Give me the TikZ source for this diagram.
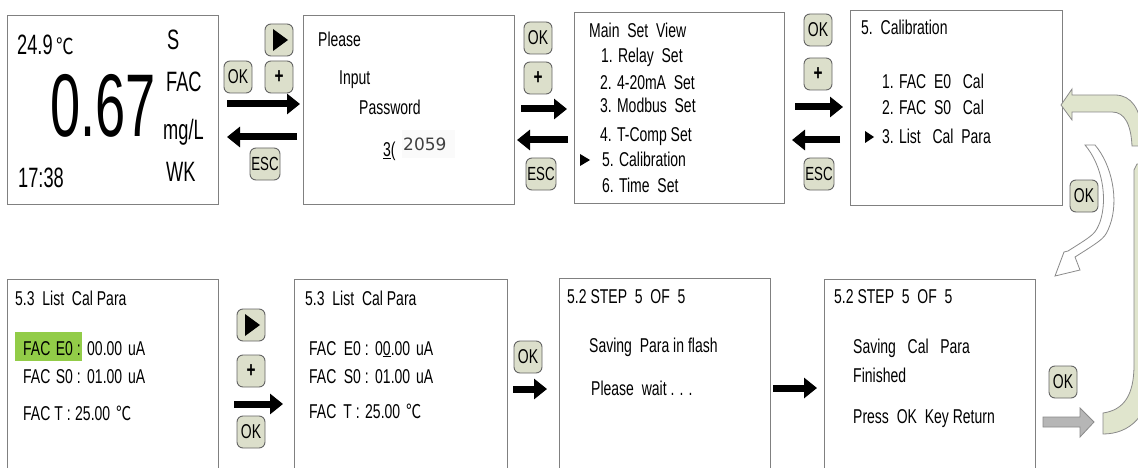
\documentclass[tikz,border=0pt]{standalone}
\usepackage{graphicx}
\usepackage{fontspec}
\setmainfont{Liberation Sans}[FakeStretch=0.70]
\newfontfamily\cjk{Noto Sans CJK SC}
\newfontfamily\dvfont{DejaVu Sans}
\usetikzlibrary{arrows.meta}
\definecolor{btnfill}{RGB}{220,223,203}
\definecolor{btnline}{RGB}{100,100,100}
\definecolor{framec}{RGB}{128,128,128}
\definecolor{bandfill}{RGB}{224,229,205}
\definecolor{bandline}{RGB}{138,138,138}
\definecolor{hlgreen}{RGB}{146,204,72}
\definecolor{grayarrow}{RGB}{182,182,182}
\newcommand{\narrowtxt}[1]{\scalebox{0.93}[1]{#1}}
\newcommand{\degc}{{\cjk\fontsize{19}{20}\selectfont\scalebox{0.8}[1]{℃}}}
\tikzset{
  panel/.style={draw=framec, line width=1pt, fill=white, anchor=north west, inner sep=0pt},
  btn/.style={draw=btnline, fill=btnfill, rounded corners=6pt, minimum width=28pt, minimum height=32pt, inner sep=0pt, line width=0.9pt, font=\fontsize{20}{22}\selectfont},
  txt/.style={anchor=base west, inner sep=0pt, font=\fontsize{20}{22}\selectfont},
  txtr/.style={anchor=base east, inner sep=0pt, font=\fontsize{20}{22}\selectfont},
  bigtxt/.style={anchor=base west, inner sep=0pt, font=\fontsize{28}{30}\selectfont},
  fatarrow/.style={line width=7pt, -{Triangle[length=13pt,width=20pt]}},
  bandshape/.style={fill=bandfill, draw=bandline, line width=0.8pt},
}
\begin{document}
\begin{tikzpicture}[x=1pt,y=-1pt]
\useasboundingbox (0,0) rectangle (1138,468);
\clip (0,0) rectangle (1138,468);
\fill[white] (0,0) rectangle (1138,468);

% ---------- panels ----------
\node[panel, minimum width=211pt, minimum height=189pt] (p1) at (7,15) {};
\node[panel, minimum width=211pt, minimum height=189pt] (p2) at (303,15) {};
\node[panel, minimum width=210pt, minimum height=191pt] (p3) at (574,12) {};
\node[panel, minimum width=212pt, minimum height=195pt] (p4) at (850,10) {};
\node[panel, minimum width=211pt, minimum height=200pt] (p5) at (7,279) {};
\node[panel, minimum width=213pt, minimum height=200pt] (p6) at (294,279) {};
\node[panel, minimum width=211pt, minimum height=200pt] (p7) at (559,278) {};
\node[panel, minimum width=211pt, minimum height=200pt] (p8) at (824,279) {};

% ---------- panel 1 ----------
\node[bigtxt] (t1a) at (17,55) {\narrowtxt{24.9}};
\node[anchor=base west, inner sep=0pt] (t1b) at (56,55) {{\cjk\fontsize{22}{24}\selectfont\scalebox{0.8}[1]{℃}}};
\node[anchor=base west, inner sep=0pt, font=\fontsize{89}{90}\selectfont] (t1c) at (50,137) {\scalebox{0.87}[1]{0.67}};
\node[bigtxt] (t1d) at (167,50) {\narrowtxt{S}};
\node[bigtxt] (t1e) at (166,92) {\narrowtxt{FAC}};
\node[bigtxt] (t1f) at (163,140) {\narrowtxt{mg/L}};
\node[bigtxt] (t1g) at (166,182) {\narrowtxt{WK}};
\node[bigtxt] (t1h) at (18,187) {\narrowtxt{17:38}};

% ---------- panel 2 ----------
\node[txt] (t2a) at (318,47) {Please};
\node[txt] (t2b) at (339,85) {Input};
\node[txt] (t2c) at (359,115) {Password};
\node[fill=gray!4, draw=none, minimum width=53pt, minimum height=28pt, inner sep=0pt] (t2bg) at (428,144) {};
\node[txt] (t2d) at (383,157) {\underline{3}(};
\node[anchor=base west, inner sep=0pt, font=\dvfont\fontsize{17}{18}\selectfont, text=black!75] (t2e) at (403,150) {2059};

% ---------- panel 3 ----------
\node[txt] (t3a) at (589,38) {Main\ \ Set\ \ View};
\node[txt] (t3b) at (601,63) {1. Relay\ \ Set};
\node[txt] (t3c) at (600,90) {2. 4-20mA\ \ Set};
\node[txt] (t3d) at (600,113) {3. Modbus\ \ Set};
\node[txt] (t3e) at (600,142) {4. T-Comp Set};
\node[txt] (t3f) at (602,167) {5. Calibration};
\node[txt] (t3g) at (602,192) {6. Time\ \ Set};
\fill (580,154) -- (590,160) -- (580,166) -- cycle;

% ---------- panel 4 ----------
\node[txt] (t4a) at (861,35) {5.\ \ Calibration};
\node[txt] (t4b) at (882,89) {1. FAC\ \ E0\ \ \ Cal};
\node[txt] (t4c) at (882,115) {2. FAC\ \ S0\ \ \ Cal};
\node[txt] (t4d) at (882,143) {3. List\ \ \ Cal\ \ Para};
\fill (865,131) -- (874,137) -- (865,143) -- cycle;

% ---------- panel 5 ----------
\node[txt] (t5a) at (15,305) {5.3\ \ List\ \ Cal Para};
\node[fill=hlgreen, minimum width=67pt, minimum height=29pt, inner sep=0pt, anchor=north west] (hl) at (15,332) {};
\node[txt] (t5b1) at (23,355) {FAC};
\node[txtr] (t5b2) at (81,355) {E0 :};
\node[txt] (t5b3) at (87,355) {00.00};
\node[txt] (t5b4) at (128,355) {uA};
\node[txt] (t5c1) at (23,383) {FAC};
\node[txtr] (t5c2) at (81,383) {S0 :};
\node[txt] (t5c3) at (87,383) {01.00};
\node[txt] (t5c4) at (128,383) {uA};
\node[txt] (t5d1) at (23,420) {FAC};
\node[txtr] (t5d2) at (71,420) {T :};
\node[txt] (t5d3) at (75,420) {25.00};
\node[anchor=base west, inner sep=0pt] (t5d4) at (116,420) {\degc};

% ---------- panel 6 ----------
\node[txt] (t6a) at (305,305) {5.3\ \ List\ \ Cal Para};
\node[txt] (t6b1) at (309,355) {FAC};
\node[txtr] (t6b2) at (369,355) {E0 :};
\node[txt] (t6b3) at (375,355) {0\underline{0}.00};
\node[txt] (t6b4) at (416,355) {uA};
\node[txt] (t6c1) at (309,383) {FAC};
\node[txtr] (t6c2) at (369,383) {S0 :};
\node[txt] (t6c3) at (375,383) {01.00};
\node[txt] (t6c4) at (416,383) {uA};
\node[txt] (t6d1) at (309,418) {FAC};
\node[txtr] (t6d2) at (360,418) {T :};
\node[txt] (t6d3) at (365,418) {25.00};
\node[anchor=base west, inner sep=0pt] (t6d4) at (406,418) {\degc};

% ---------- panel 7 ----------
\node[txt] (t7a) at (567,303) {5.2 STEP\ \ 5\ \ OF\ \ 5};
\node[txt] (t7b) at (589,352) {Saving\ \ Para in flash};
\node[txt] (t7c) at (591,395) {Please\ \ wait . . .};

% ---------- panel 8 ----------
\node[txt] (t8a) at (834,303) {5.2 STEP\ \ 5\ \ OF\ \ 5};
\node[txt] (t8b) at (853,353) {Saving\ \ \ Cal\ \ \ Para};
\node[txt] (t8c) at (853,382) {Finished};
\node[txt] (t8d) at (853,423) {Press\ \ OK\ \ Key Return};

% ---------- buttons ----------
\node[btn] (b1play) at (279,40) {};
\fill (b1play.center) ++(-6,-11) -- ++(15,11) -- ++(-15,11) -- cycle;
\node[btn, font=\fontsize{22}{24}\selectfont] (b1plus) at (279,77) {\textbf{+}};
\node[btn] (b1ok) at (238,77) {OK};
\node[btn, minimum width=30pt, font=\fontsize{19}{20}\selectfont] (b1esc) at (265,164) {ESC};

\node[btn] (b2ok) at (538,38) {OK};
\node[btn, font=\fontsize{22}{24}\selectfont] (b2plus) at (538,78) {\textbf{+}};
\node[btn, minimum width=30pt, font=\fontsize{19}{20}\selectfont] (b2esc) at (541,174) {ESC};

\node[btn] (b3ok) at (818,30) {OK};
\node[btn, font=\fontsize{22}{24}\selectfont] (b3plus) at (818,74) {\textbf{+}};
\node[btn, minimum width=30pt, font=\fontsize{19}{20}\selectfont] (b3esc) at (819,174) {ESC};

\node[btn] (b4ok) at (1084,196) {OK};

\node[btn] (b5play) at (251,325) {};
\fill (b5play.center) ++(-6,-11) -- ++(15,11) -- ++(-15,11) -- cycle;
\node[btn, font=\fontsize{22}{24}\selectfont] (b5plus) at (251,371) {\textbf{+}};
\node[btn] (b5ok) at (251,432) {OK};

\node[btn] (b6ok) at (528,357) {OK};
\node[btn] (b8ok) at (1063,382) {OK};

% ---------- black arrows ----------
\coordinate (r1a) at (227,104); \coordinate (r1b) at (300,104);
\coordinate (l1a) at (297,137); \coordinate (l1b) at (227,137);
\coordinate (r2a) at (521,109); \coordinate (r2b) at (567,109);
\coordinate (l2a) at (568,140); \coordinate (l2b) at (517,140);
\coordinate (r3a) at (795,107); \coordinate (r3b) at (843,107);
\coordinate (l3a) at (840,140); \coordinate (l3b) at (792,140);
\coordinate (r5a) at (234,404); \coordinate (r5b) at (283,404);
\coordinate (r6a) at (513,389); \coordinate (r6b) at (547,389);
\coordinate (r7a) at (773,388); \coordinate (r7b) at (817,388);
\draw[fatarrow] (r1a) -- (r1b);
\draw[fatarrow] (l1a) -- (l1b);
\draw[fatarrow] (r2a) -- (r2b);
\draw[fatarrow] (l2a) -- (l2b);
\draw[fatarrow] (r3a) -- (r3b);
\draw[fatarrow] (l3a) -- (l3b);
\draw[fatarrow] (r5a) -- (r5b);
\draw[fatarrow] (r6a) -- (r6b);
\draw[fatarrow] (r7a) -- (r7b);

% ---------- gray block arrow ----------
\draw[fill=grayarrow, draw=bandline, line width=0.8pt]
  (1043,417) -- (1080,417) -- (1080,408) -- (1094,422) -- (1080,437) -- (1080,427) -- (1043,427) -- cycle;

% ---------- green return band (bottom/right part) ----------
\draw[bandshape]
  (1103,413) .. controls (1124,410) and (1134,395) .. (1134,365)
  -- (1134,170) -- (1137,164) -- (1150,164) -- (1150,380)
  .. controls (1150,415) and (1130,434) .. (1103,434) -- cycle;

% ---------- green return arrow (top part) ----------
\draw[bandshape]
  (1061,105) -- (1072,89) -- (1072,95) -- (1115,95)
  .. controls (1132,95) and (1140,110) .. (1142,130) -- (1142,146) -- (1132,146)
  .. controls (1131,125) and (1125,112) .. (1112,112)
  -- (1072,112) -- (1072,120) -- cycle;

% ---------- white curved arrow ----------
\draw[fill=white, draw=bandline, line width=0.8pt]
  (1095,145) .. controls (1112,165) and (1119,200) .. (1110,225)
  .. controls (1105,238) .. (1075,257)
  -- (1080,270) -- (1055,276) -- (1064,252) -- (1068,251)
  .. controls (1095,234) .. (1100,222)
  .. controls (1108,198) and (1102,165) .. (1085,145) -- cycle;
\end{tikzpicture}
\end{document}
